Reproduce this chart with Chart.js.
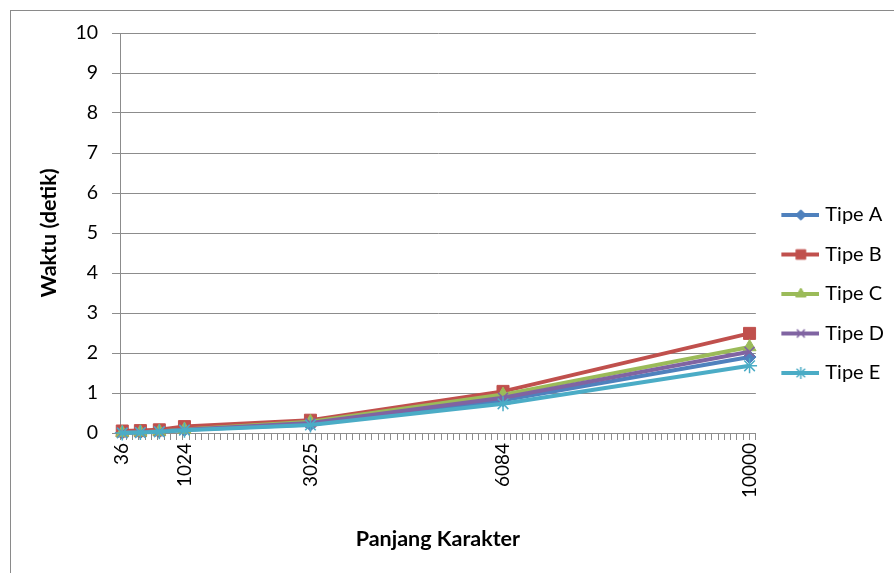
<!DOCTYPE html>
<html>
<head>
<meta charset="utf-8">
<script src="https://cdn.jsdelivr.net/npm/chart.js@4.4.1/dist/chart.umd.min.js"></script>
<style>
  html, body { margin: 0; padding: 0; background: #ffffff; }
  canvas { display: block; }
</style>
</head>
<body>
<canvas id="chart" width="894" height="573"></canvas>
<script>
// Panjang karakter (x) dan waktu proses dalam detik (y) untuk tiap tipe
const panjangKarakter = [36, 324, 625, 1024, 3025, 6084, 10000];
const tipeA = [0.01, 0.02, 0.04, 0.08, 0.21, 0.82, 1.90];
const tipeB = [0.05, 0.06, 0.08, 0.16, 0.32, 1.04, 2.49];
const tipeC = [0.01, 0.02, 0.04, 0.09, 0.28, 0.96, 2.15];
const tipeD = [0.01, 0.02, 0.04, 0.08, 0.25, 0.88, 2.03];
const tipeE = [0.00, 0.01, 0.03, 0.07, 0.20, 0.73, 1.68];
const namaSeri = ['Tipe A', 'Tipe B', 'Tipe C', 'Tipe D', 'Tipe E'];
// label sumbu x yang ditampilkan
const labelSumbuX = [36, 1024, 3025, 6084, 10000];

const nilaiSeri = [tipeA, tipeB, tipeC, tipeD, tipeE];
const warna = ['#4F81BD', '#C0504D', '#9BBB59', '#8064A2', '#4BACC6'];
const penanda = [
  { style: 'rectRot', radius: 6.5, bw: 1 },
  { style: 'rect', radius: 8.5, bw: 1 },
  { style: 'triangle', radius: 7.5, bw: 1 },
  { style: 'crossRot', radius: 7, bw: 1.5 },
  { style: 'star', radius: 7.5, bw: 1.5 }
];

const FONT = 'Lato, "Open Sans", "DejaVu Sans", sans-serif';
const TEXT = '#000000';
const GRID = '#8c8c8c';

// ikon legenda: garis dengan penanda di tengah
function ikonLegenda(color, m) {
  const c = document.createElement('canvas');
  c.width = 48; c.height = 18;
  const g = c.getContext('2d');
  g.strokeStyle = color;
  g.lineWidth = 4;
  g.beginPath(); g.moveTo(10, 9); g.lineTo(48, 9); g.stroke();
  g.fillStyle = color;
  g.lineWidth = m.bw;
  Chart.helpers.drawPoint(g, { pointStyle: m.style, radius: m.radius * 0.8, rotation: 0, borderWidth: m.bw }, 29.5, 9);
  return c;
}
const ikon = warna.map((w, i) => ikonLegenda(w, penanda[i]));

const datasets = namaSeri.map((nama, i) => ({
  label: nama,
  data: panjangKarakter.map((x, j) => ({ x: x, y: nilaiSeri[i][j] })),
  borderColor: warna[i],
  backgroundColor: warna[i],
  borderWidth: 4,
  pointStyle: penanda[i].style,
  pointRadius: penanda[i].radius,
  pointBorderWidth: penanda[i].bw,
  pointBackgroundColor: warna[i],
  pointBorderColor: warna[i],
  tension: 0,
  clip: false,
  order: namaSeri.length - i
}));

// lebar legenda diatur agar area plot berakhir di x = 757
const legendFontSize = 20;
const mctx = document.createElement('canvas').getContext('2d');
mctx.font = legendFontSize + 'px ' + FONT;
const teksMaks = Math.max(...namaSeri.map(n => mctx.measureText(n).width));
const legendPad = 19.5, legendBox = 40;
const legendWidth = legendPad + legendBox + legendFontSize / 2 + teksMaks + 10;
const padKanan = Math.max(0, 894 - 757 - legendWidth);

const bingkai = {
  id: 'bingkai',
  beforeDraw(chart) {
    const ctx = chart.ctx;
    ctx.save();
    ctx.fillStyle = '#ffffff';
    ctx.fillRect(0, 0, chart.width, chart.height);
    ctx.strokeStyle = '#8a8a8a';
    ctx.lineWidth = 1;
    ctx.strokeRect(10.5, 10.5, chart.width + 20, chart.height + 20);
    ctx.restore();
  }
};

new Chart(document.getElementById('chart'), {
  type: 'line',
  data: { datasets: datasets },
  plugins: [bingkai],
  options: {
    responsive: false,
    animation: false,
    devicePixelRatio: 1,
    layout: { padding: { top: 33, bottom: 18, left: 32, right: padKanan } },
    plugins: {
      tooltip: { enabled: false },
      legend: {
        position: 'right',
        align: 'center',
        labels: {
          usePointStyle: true,
          pointStyleWidth: legendBox,
          padding: legendPad,
          color: TEXT,
          font: { family: FONT, size: legendFontSize },
          generateLabels(chart) {
            return chart.data.datasets.map((ds, i) => ({
              text: ds.label,
              pointStyle: ikon[i],
              fillStyle: warna[i],
              strokeStyle: warna[i],
              lineWidth: 0,
              fontColor: TEXT,
              hidden: false,
              datasetIndex: i
            }));
          }
        }
      }
    },
    scales: {
      x: {
        type: 'linear',
        min: 0,
        max: 10100,
        afterBuildTicks(axis) {
          const vals = new Set();
          for (let v = 0; v <= 10100; v += 100) vals.add(v);
          labelSumbuX.forEach(v => vals.add(v));
          axis.ticks = [...vals].sort((a, b) => a - b).map(v => ({ value: v }));
        },
        afterFit(scale) { scale.height = 122; },
        ticks: {
          autoSkip: false,
          minRotation: 90,
          maxRotation: 90,
          padding: 3,
          color: TEXT,
          font: { family: FONT, size: 19 },
          callback(value) { return labelSumbuX.includes(value) ? String(value) : ''; }
        },
        grid: {
          drawOnChartArea: false,
          drawTicks: true,
          tickLength: 7,
          tickColor(ctx) { return ctx.tick && ctx.tick.value % 100 === 0 ? GRID : 'rgba(0,0,0,0)'; },
          color: GRID
        },
        border: { display: true, color: GRID, width: 1 },
        title: {
          display: true,
          text: 'Panjang Karakter',
          color: TEXT,
          font: { family: FONT, size: 21.5, weight: 'bold' },
          padding: { top: 4, bottom: 3 }
        }
      },
      y: {
        min: 0,
        max: 10,
        afterFit(scale) { scale.width = 88; },
        ticks: {
          stepSize: 1,
          padding: 14,
          color: TEXT,
          font: { family: FONT, size: 19.5 }
        },
        grid: {
          color: GRID,
          lineWidth: 1,
          drawTicks: true,
          tickLength: 8,
          tickColor: GRID
        },
        border: { display: true, color: GRID, width: 1 },
        title: {
          display: true,
          text: 'Waktu (detik)',
          color: TEXT,
          font: { family: FONT, size: 21.5, weight: 'bold' },
          padding: { top: 4, bottom: 4 }
        }
      }
    }
  }
});
</script>
</body>
</html>
